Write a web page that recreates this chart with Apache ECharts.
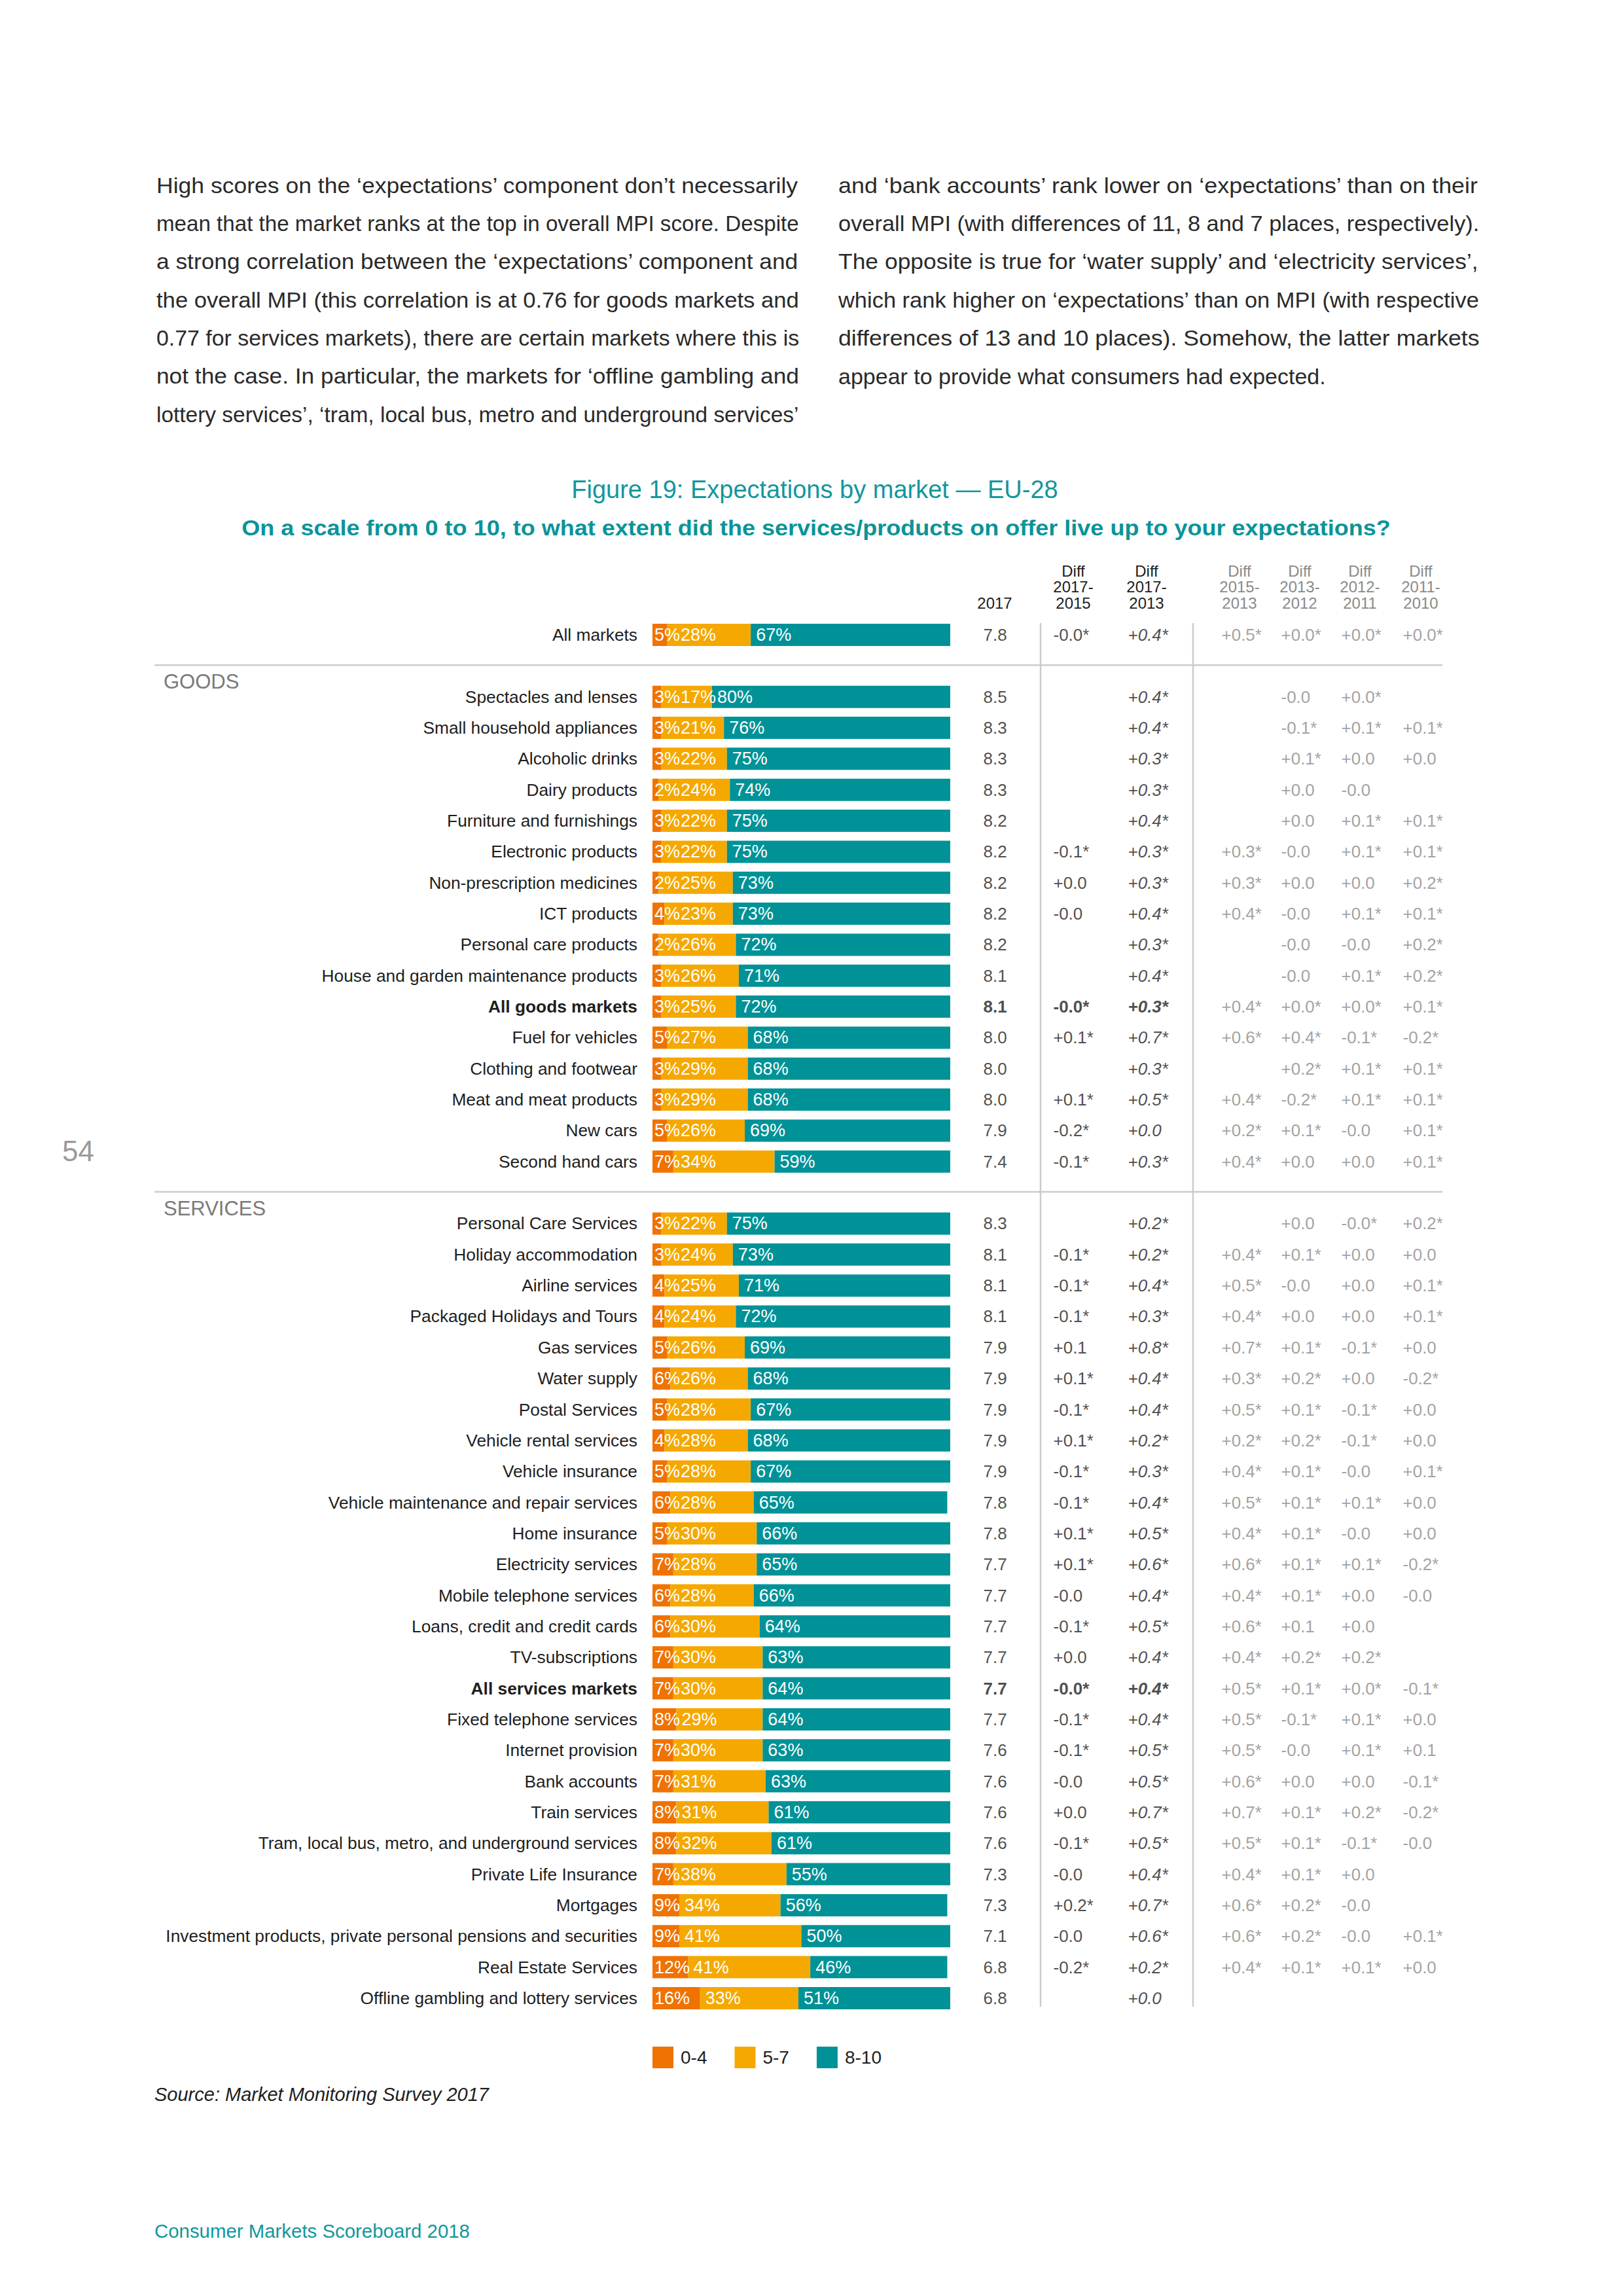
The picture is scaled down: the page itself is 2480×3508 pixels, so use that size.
<!DOCTYPE html>
<html>
<head>
<meta charset="utf-8">
<script src="https://cdn.jsdelivr.net/npm/echarts@6/dist/echarts.min.js"></script>
<style>
html,body{margin:0;padding:0;background:#ffffff;}
#chart{width:2480px;height:3508px;}
</style>
</head>
<body>
<div id="chart"></div>
<script>
// ================= DATA =================
const markets = [
  'All markets',
  'Spectacles and lenses','Small household appliances','Alcoholic drinks','Dairy products',
  'Furniture and furnishings','Electronic products','Non-prescription medicines','ICT products',
  'Personal care products','House and garden maintenance products','All goods markets',
  'Fuel for vehicles','Clothing and footwear','Meat and meat products','New cars','Second hand cars',
  'Personal Care Services','Holiday accommodation','Airline services','Packaged Holidays and Tours',
  'Gas services','Water supply','Postal Services','Vehicle rental services','Vehicle insurance',
  'Vehicle maintenance and repair services','Home insurance','Electricity services',
  'Mobile telephone services','Loans, credit and credit cards','TV-subscriptions','All services markets',
  'Fixed telephone services','Internet provision','Bank accounts','Train services',
  'Tram, local bus, metro, and underground services','Private Life Insurance','Mortgages',
  'Investment products, private personal pensions and securities','Real Estate Services',
  'Offline gambling and lottery services'
];
const pct04 = [5, 3,3,3,2,3,3,2,4,2,3,3,5,3,3,5,7, 3,3,4,4,5,6,5,4,5,6,5,7,6,6,7,7,8,7,7,8,8,7,9,9,12,16];
const pct57 = [28, 17,21,22,24,22,22,25,23,26,26,25,27,29,29,26,34, 22,24,25,24,26,26,28,28,28,28,30,28,28,30,30,30,29,30,31,31,32,38,34,41,41,33];
const pct810 = [67, 80,76,75,74,75,75,73,73,72,71,72,68,68,68,69,59, 75,73,71,72,69,68,67,68,67,65,66,65,66,64,63,64,64,63,63,61,61,55,56,50,46,51];
const score2017 = [7.8, 8.5,8.3,8.3,8.3,8.2,8.2,8.2,8.2,8.2,8.1,8.1,8.0,8.0,8.0,7.9,7.4,
  8.3,8.1,8.1,8.1,7.9,7.9,7.9,7.9,7.9,7.8,7.8,7.7,7.7,7.7,7.7,7.7,7.7,7.6,7.6,7.6,7.6,7.3,7.3,7.1,6.8,6.8];
const diff2017_2015 = ['-0.0*', null,null,null,null,null,'-0.1*','+0.0','-0.0',null,null,'-0.0*','+0.1*',null,'+0.1*','-0.2*','-0.1*',
  null,'-0.1*','-0.1*','-0.1*','+0.1','+0.1*','-0.1*','+0.1*','-0.1*','-0.1*','+0.1*','+0.1*','-0.0','-0.1*','+0.0','-0.0*','-0.1*','-0.1*','-0.0','+0.0','-0.1*','-0.0','+0.2*','-0.0','-0.2*',null];
const diff2017_2013 = ['+0.4*', '+0.4*','+0.4*','+0.3*','+0.3*','+0.4*','+0.3*','+0.3*','+0.4*','+0.3*','+0.4*','+0.3*','+0.7*','+0.3*','+0.5*','+0.0','+0.3*',
  '+0.2*','+0.2*','+0.4*','+0.3*','+0.8*','+0.4*','+0.4*','+0.2*','+0.3*','+0.4*','+0.5*','+0.6*','+0.4*','+0.5*','+0.4*','+0.4*','+0.4*','+0.5*','+0.5*','+0.7*','+0.5*','+0.4*','+0.7*','+0.6*','+0.2*','+0.0'];
const diff2015_2013 = ['+0.5*', null,null,null,null,null,'+0.3*','+0.3*','+0.4*',null,null,'+0.4*','+0.6*',null,'+0.4*','+0.2*','+0.4*',
  null,'+0.4*','+0.5*','+0.4*','+0.7*','+0.3*','+0.5*','+0.2*','+0.4*','+0.5*','+0.4*','+0.6*','+0.4*','+0.6*','+0.4*','+0.5*','+0.5*','+0.5*','+0.6*','+0.7*','+0.5*','+0.4*','+0.6*','+0.6*','+0.4*',null];
const diff2013_2012 = ['+0.0*', '-0.0','-0.1*','+0.1*','+0.0','+0.0','-0.0','+0.0','-0.0','-0.0','-0.0','+0.0*','+0.4*','+0.2*','-0.2*','+0.1*','+0.0',
  '+0.0','+0.1*','-0.0','+0.0','+0.1*','+0.2*','+0.1*','+0.2*','+0.1*','+0.1*','+0.1*','+0.1*','+0.1*','+0.1','+0.2*','+0.1*','-0.1*','-0.0','+0.0','+0.1*','+0.1*','+0.1*','+0.2*','+0.2*','+0.1*',null];
const diff2012_2011 = ['+0.0*', '+0.0*','+0.1*','+0.0','-0.0','+0.1*','+0.1*','+0.0','+0.1*','-0.0','+0.1*','+0.0*','-0.1*','+0.1*','+0.1*','-0.0','+0.0',
  '-0.0*','+0.0','+0.0','+0.0','-0.1*','+0.0','-0.1*','-0.1*','-0.0','+0.1*','-0.0','+0.1*','+0.0','+0.0','+0.2*','+0.0*','+0.1*','+0.1*','+0.0','+0.2*','-0.1*','+0.0','-0.0','-0.0','+0.1*',null];
const diff2011_2010 = ['+0.0*', null,'+0.1*','+0.0',null,'+0.1*','+0.1*','+0.2*','+0.1*','+0.2*','+0.2*','+0.1*','-0.2*','+0.1*','+0.1*','+0.1*','+0.1*',
  '+0.2*','+0.0','+0.1*','+0.1*','+0.0','-0.2*','+0.0','+0.0','+0.1*','+0.0','+0.0','-0.2*','-0.0',null,null,'-0.1*','+0.0','+0.1','-0.1*','-0.2*','-0.0',null,null,'+0.1*','+0.0',null];

const sectionTitles = ['GOODS', 'SERVICES'];
const sectionFirstMarkets = ['Spectacles and lenses', 'Personal Care Services'];
const boldMarkets = ['All goods markets', 'All services markets'];
const legendNames = ['0-4', '5-7', '8-10'];
const columnHeaders = ['2017', 'Diff\n2017-\n2015', 'Diff\n2017-\n2013', 'Diff\n2015-\n2013', 'Diff\n2013-\n2012', 'Diff\n2012-\n2011', 'Diff\n2011-\n2010'];

const titleText = 'Figure 19: Expectations by market \u2014 EU-28';
const subtitleText = 'On a scale from 0 to 10, to what extent did the services/products on offer live up to your expectations?';
const sourceText = 'Source: Market Monitoring Survey 2017';
const footerText = 'Consumer Markets Scoreboard 2018';
const pageNumber = '54';
const paragraphLeft = [
  'High scores on the \u2018expectations\u2019 component don\u2019t necessarily',
  'mean that the market ranks at the top in overall MPI score. Despite',
  'a strong correlation between the \u2018expectations\u2019 component and',
  'the overall MPI (this correlation is at 0.76 for goods markets and',
  '0.77 for services markets), there are certain markets where this is',
  'not the case. In particular, the markets for \u2018offline gambling and',
  'lottery services\u2019, \u2018tram, local bus, metro and underground services\u2019'
];
const paragraphRight = [
  'and \u2018bank accounts\u2019 rank lower on \u2018expectations\u2019 than on their',
  'overall MPI (with differences of 11, 8 and 7 places, respectively).',
  'The opposite is true for \u2018water supply\u2019 and \u2018electricity services\u2019,',
  'which rank higher on \u2018expectations\u2019 than on MPI (with respective',
  'differences of 13 and 10 places). Somehow, the latter markets',
  'appear to provide what consumers had expected.'
];

// ================= LAYOUT / STYLE =================
const FONT = '"Liberation Sans", Arial, Helvetica, sans-serif';
const INK = '#1e1e1e';
const GREY = '#8a8a8a';
const TEAL_TXT = '#12979d';
const C_ORANGE = '#ef7203', C_YELLOW = '#f5a800', C_TEAL = '#009297';
const ROW0_Y = 970, ROW_PITCH = 47.34;
const BAR_LEFT = 997, BAR_W = 455;
const colLayout = [
  {left: 1502, center: 1520, color: INK, italic: false, boldable: true},
  {left: 1609, center: 1640, color: INK, italic: false, boldable: true},
  {left: 1723, center: 1752, color: INK, italic: true, boldable: true},
  {left: 1866, center: 1894, color: GREY, italic: false, boldable: false},
  {left: 1957, center: 1986, color: GREY, italic: false, boldable: false},
  {left: 2049, center: 2078, color: GREY, italic: false, boldable: false},
  {left: 2143, center: 2171, color: GREY, italic: false, boldable: false}
];

// ================= BUILD =================
const rowKeys = [];
markets.forEach(m => {
  const s = sectionFirstMarkets.indexOf(m);
  if (s >= 0) rowKeys.push('\u00a7' + sectionTitles[s]);
  rowKeys.push(m);
});
const GRID_TOP = ROW0_Y - ROW_PITCH / 2;
const GRID_H = ROW_PITCH * rowKeys.length;

function barData(arr) {
  return rowKeys.map(k => { const i = markets.indexOf(k); return i < 0 ? '-' : arr[i]; });
}

const grids = [{left: BAR_LEFT, top: GRID_TOP, width: BAR_W, height: GRID_H, containLabel: false, outerBoundsMode: 'none'}];
const xAxes = [{type: 'value', gridIndex: 0, min: 0, max: 100, show: false}];
const yAxes = [{
  type: 'category', gridIndex: 0, data: rowKeys, inverse: true,
  axisLine: {show: false}, axisTick: {show: false}, splitLine: {show: false},
  axisLabel: {
    interval: 0, margin: 23, fontSize: 26.3, fontFamily: FONT, color: INK,
    formatter: k => k.charAt(0) === '\u00a7' ? '' : (boldMarkets.indexOf(k) >= 0 ? '{b|' + k + '}' : k),
    rich: {b: {fontWeight: 'bold', fontSize: 26.3, fontFamily: FONT, color: INK}}
  }
}];

const barLabel = {show: true, position: 'insideLeft', formatter: '{c}%', color: '#ffffff', fontSize: 27, fontFamily: FONT};
const series = [
  {type: 'bar', name: legendNames[0], stack: 'share', barWidth: 34, xAxisIndex: 0, yAxisIndex: 0,
    data: barData(pct04), itemStyle: {color: C_ORANGE}, label: Object.assign({}, barLabel, {distance: 3})},
  {type: 'bar', name: legendNames[1], stack: 'share', barWidth: 34, xAxisIndex: 0, yAxisIndex: 0,
    data: barData(pct57), itemStyle: {color: C_YELLOW}, label: Object.assign({}, barLabel, {distance: 8}),
    labelLayout: p => ({x: Math.max(p.rect.x + 8, BAR_LEFT + 43), y: p.rect.y + p.rect.height / 2, align: 'left', verticalAlign: 'middle'})},
  {type: 'bar', name: legendNames[2], stack: 'share', barWidth: 34, xAxisIndex: 0, yAxisIndex: 0,
    data: barData(pct810), itemStyle: {color: C_TEAL}, label: Object.assign({}, barLabel, {distance: 8})}
];

const columnValues = [score2017.map(v => v.toFixed(1)), diff2017_2015, diff2017_2013, diff2015_2013, diff2013_2012, diff2012_2011, diff2011_2010];
colLayout.forEach((c, j) => {
  const gi = j + 1;
  grids.push({left: c.left, top: GRID_TOP, width: 2 * (c.center - c.left), height: GRID_H, containLabel: false, outerBoundsMode: 'none'});
  xAxes.push({
    type: 'value', gridIndex: gi, min: 0, max: 1, position: 'top',
    name: columnHeaders[j], nameLocation: 'middle', nameGap: 13,
    nameTextStyle: {fontSize: 24, lineHeight: 24.5, fontFamily: FONT, color: c.color, align: 'center'},
    axisLine: {show: false}, axisTick: {show: false}, axisLabel: {show: false}, splitLine: {show: false}
  });
  yAxes.push({type: 'category', gridIndex: gi, data: rowKeys, inverse: true, show: false});
  const data = [];
  markets.forEach((m, i) => {
    const t = columnValues[j][i];
    if (t == null) return;
    const item = {value: [0, m], txt: t};
    if (c.boldable && boldMarkets.indexOf(m) >= 0) item.label = {fontWeight: 'bold'};
    data.push(item);
  });
  series.push({
    type: 'scatter', xAxisIndex: gi, yAxisIndex: gi, symbolSize: 1, silent: true,
    itemStyle: {color: 'rgba(0,0,0,0)'}, data: data,
    label: {show: true, position: 'right', distance: 0, formatter: p => p.data.txt,
      fontSize: 26, fontFamily: FONT, color: c.color, fontStyle: c.italic ? 'italic' : 'normal'}
  });
});

const option = {
  animation: false,
  backgroundColor: '#ffffff',
  textStyle: {fontFamily: FONT},
  legend: {
    data: legendNames, left: BAR_LEFT, top: 3127, itemWidth: 32, itemHeight: 33, itemGap: 42,
    icon: 'rect', padding: 0, selectedMode: false,
    textStyle: {fontSize: 28, color: INK, fontFamily: FONT, padding: [0, 0, 0, 6]}
  },
  grid: grids, xAxis: xAxes, yAxis: yAxes, series: series
};

const chart = echarts.init(document.getElementById('chart'), null, {renderer: 'svg', width: 2480, height: 3508});
chart.setOption(option);

// ---------- page text & decorations ----------
const mctx = document.createElement('canvas').getContext('2d');
function textWidth(t, size, weight) { mctx.font = (weight || 'normal') + ' ' + size + 'px ' + FONT; return mctx.measureText(t).width; }

const graphics = [];
function addText(t, x, y, size, color, extra) {
  graphics.push(Object.assign({type: 'text', x: x, y: y, silent: true,
    style: Object.assign({text: t, fontSize: size, fontFamily: FONT, fill: color, align: 'left', verticalAlign: 'middle'}, (extra && extra.style) || {})},
    (extra && extra.props) || {}));
}
function addParagraph(lines, x, right, lastJustified) {
  const size = 34;
  lines.forEach((t, i) => {
    const justify = lastJustified || i < lines.length - 1;
    const sx = justify ? (right - x) / textWidth(t, size) : 1;
    addText(t, x, 283 + i * 58.3, size, '#2a2a2a', {props: {scaleX: sx}});
  });
}
addParagraph(paragraphLeft, 239, 1221, true);
addParagraph(paragraphRight, 1281, 2261, false);

addText(titleText, 1245, 748, 38, TEAL_TXT, {style: {align: 'center'}});
const subSize = 34;
addText(subtitleText, 1247, 806, subSize, '#0a949a',
  {style: {align: 'center', fontWeight: 'bold'}, props: {scaleX: 1757 / textWidth(subtitleText, subSize, 'bold')}});
addText(sourceText, 236, 3200, 29, INK, {style: {fontStyle: 'italic'}});
addText(footerText, 236, 3408, 29.4, TEAL_TXT);
addText(pageNumber, 95, 1758, 44, '#9a9a9a');

const yFirst = chart.convertToPixel({yAxisIndex: 0}, markets[0]);
const yLast = chart.convertToPixel({yAxisIndex: 0}, markets[markets.length - 1]);
[1590, 1823].forEach(x => {
  graphics.push({type: 'line', silent: true, shape: {x1: x, y1: yFirst - 18, x2: x, y2: yLast + 13},
    style: {stroke: '#cbcbcb', lineWidth: 2.5}});
});
sectionTitles.forEach(t => {
  const y = chart.convertToPixel({yAxisIndex: 0}, '\u00a7' + t);
  graphics.push({type: 'line', silent: true, shape: {x1: 236, y1: y - 1, x2: 2204, y2: y - 1},
    style: {stroke: '#cccccc', lineWidth: 2.5}});
  addText(t, 250, y + 24, 31, '#7a7a7a');
});
chart.setOption({graphic: graphics});
</script>
</body>
</html>
